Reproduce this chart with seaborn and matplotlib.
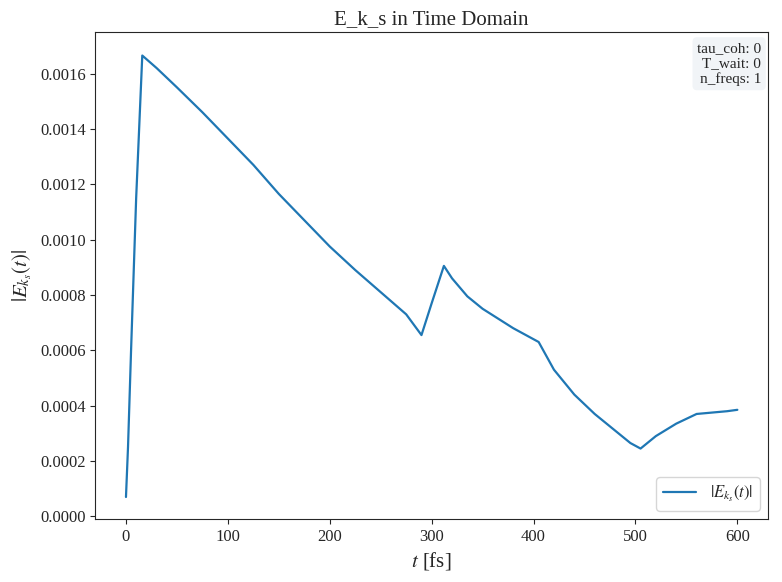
import matplotlib
matplotlib.use("Agg")
import matplotlib.pyplot as plt
import seaborn as sns

# values
t_fs = [0, 2, 5, 10, 16, 30, 50, 75, 100, 125, 150, 175, 200, 225, 250, 275, 290,
        300, 312, 320, 335, 350, 365, 380, 395, 405, 420, 440, 460, 480, 495, 505,
        520, 540, 560, 575, 590, 600]
e_ks = [0.00007, 0.00025, 0.0006, 0.00115, 0.001665, 0.00162, 0.00155, 0.00146,
        0.001365, 0.00127, 0.001165, 0.00107, 0.000975, 0.00089, 0.00081, 0.00073,
        0.000655, 0.00077, 0.000905, 0.00086, 0.000795, 0.00075, 0.000715, 0.00068,
        0.00065, 0.00063, 0.00053, 0.00044, 0.00037, 0.00031, 0.000265, 0.000245,
        0.00029, 0.000335, 0.00037, 0.000375, 0.00038, 0.000385]
info_lines = ["tau_coh: 0", "T_wait: 0", "n_freqs: 1"]

sns.set_style("ticks")
plt.rcParams["font.family"] = ["Liberation Serif", "DejaVu Serif"]
plt.rcParams["mathtext.fontset"] = "stix"

fig, ax = plt.subplots(figsize=(7.82, 5.82), dpi=100)
sns.lineplot(x=t_fs, y=e_ks, ax=ax, color="#1f77b4", linewidth=1.6,
             label=r"$|E_{k_s}(t)|$")
ax.set_title("E_k_s in Time Domain", fontsize=15)
ax.set_xlabel(r"$t$ [fs]", fontsize=15)
ax.set_ylabel(r"$|E_{k_s}(t)|$", fontsize=15)
ax.tick_params(labelsize=12)
ax.set_ylim(-0.00001, 0.00175)
ax.yaxis.set_major_formatter(matplotlib.ticker.FormatStrFormatter("%.4f"))
ax.legend(loc="lower right", fontsize=12)
ax.text(0.99, 0.98, "\n".join(info_lines), transform=ax.transAxes, ha="right",
        va="top", fontsize=11,
        bbox=dict(boxstyle="round", facecolor="#eef2f6", edgecolor="none", alpha=0.8))
fig.subplots_adjust(left=0.122, right=0.982, top=0.945, bottom=0.108)
fig.savefig("out.png", dpi=100)
